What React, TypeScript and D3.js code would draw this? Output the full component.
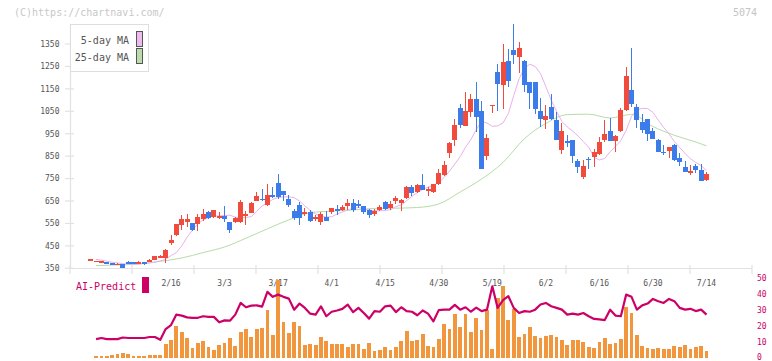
import React from "react";
import * as d3 from "d3";

// Trading days shown on the chart (2026)
const dates = [
  "1/23", "1/26", "1/27", "1/28", "1/29", "1/30",
  "2/2", "2/3", "2/4", "2/5", "2/6", "2/9", "2/10", "2/12", "2/13", "2/16", "2/17", "2/18", "2/19", "2/20", "2/24", "2/25", "2/26", "2/27",
  "3/2", "3/3", "3/4", "3/5", "3/6", "3/9", "3/10", "3/11", "3/12", "3/13", "3/16", "3/17", "3/18", "3/19", "3/23", "3/24", "3/25", "3/26", "3/27", "3/30", "3/31",
  "4/1", "4/2", "4/3", "4/6", "4/7", "4/8", "4/9", "4/10", "4/13", "4/14", "4/15", "4/16", "4/17", "4/20", "4/21", "4/22", "4/23", "4/24", "4/27", "4/28", "4/30",
  "5/1", "5/7", "5/8", "5/11", "5/12", "5/13", "5/14", "5/15", "5/18", "5/19", "5/20", "5/21", "5/22", "5/25", "5/26", "5/27", "5/28", "5/29",
  "6/1", "6/2", "6/3", "6/4", "6/5", "6/8", "6/9", "6/10", "6/11", "6/12", "6/15", "6/16", "6/17", "6/18", "6/19", "6/22", "6/23", "6/24", "6/25", "6/26", "6/29", "6/30",
  "7/1", "7/2", "7/3", "7/6", "7/7", "7/8", "7/9", "7/10", "7/13", "7/14",
];

const open = [
  389, 380, 374, 378, 373, 367, 370, 376, 378, 376, 378, 383, 386, 397, 397, 464, 498, 545, 558, 550,
  548, 571, 601, 577, 578, 584, 556, 556, 556, 587, 598, 652, 661, 632, 675, 731, 695, 659, 605, 632,
  594, 601, 572, 556, 579, 601, 614, 610, 628, 641, 637, 628, 610, 592, 611, 646, 620, 648, 641, 663,
  712, 690, 721, 698, 690, 726, 766, 864, 922, 1065, 985, 1047, 1105, 1051, 851, 1076, 1225, 1166, 1274, 1323,
  1292, 1273, 1181, 1181, 1051, 1012, 1069, 1011, 879, 918, 921, 828, 759, 838, 846, 860, 922, 962, 919, 963,
  1057, 1145, 1069, 1002, 1016, 962, 922, 869, 873, 900, 842, 802, 775, 806, 788, 744,
];
const high = [
  391, 384, 383, 379, 374, 373, 371, 384, 379, 381, 379, 390, 406, 408, 435, 497, 548, 588, 591, 552,
  590, 616, 605, 610, 600, 627, 556, 578, 653, 607, 645, 690, 702, 728, 711, 770, 695, 677, 614, 645,
  618, 610, 587, 600, 605, 618, 632, 632, 659, 659, 655, 628, 614, 614, 632, 650, 650, 672, 659, 717,
  721, 726, 770, 712, 726, 792, 828, 912, 1016, 1083, 1136, 1127, 1181, 1096, 949, 1079, 1260, 1350, 1327, 1439,
  1358, 1278, 1181, 1181, 1109, 1078, 1127, 1047, 998, 944, 921, 837, 833, 846, 882, 935, 1011, 1020, 944, 1065,
  1247, 1332, 1083, 1038, 1016, 975, 926, 900, 891, 904, 864, 828, 811, 815, 815, 780,
];
const low = [
  389, 378, 372, 368, 365, 364, 352, 369, 367, 374, 366, 380, 385, 395, 375, 455, 495, 521, 533, 517,
  515, 563, 569, 575, 568, 558, 508, 553, 551, 543, 595, 648, 648, 628, 665, 660, 652, 623, 565, 543,
  583, 556, 561, 543, 561, 592, 587, 605, 610, 601, 619, 592, 574, 583, 605, 610, 610, 637, 607, 659,
  672, 686, 699, 672, 686, 721, 761, 841, 895, 976, 983, 1025, 958, 793, 833, 1044, 1051, 1060, 1158, 1260,
  1221, 1135, 1060, 1038, 980, 971, 1011, 921, 859, 891, 821, 777, 750, 794, 803, 856, 913, 918, 870, 959,
  1053, 1070, 976, 953, 918, 926, 869, 855, 842, 829, 806, 779, 766, 775, 739, 739,
];
const close = [
  391, 383, 382, 369, 366, 370, 353, 372, 369, 378, 368, 386, 404, 403, 430, 476, 547, 570, 570, 521,
  577, 590, 573, 610, 583, 568, 522, 573, 645, 591, 642, 673, 657, 677, 669, 670, 677, 632, 574, 574,
  600, 561, 578, 590, 561, 618, 610, 623, 641, 610, 629, 601, 587, 605, 622, 614, 637, 662, 654, 712,
  686, 721, 699, 703, 726, 775, 810, 908, 989, 989, 1051, 1105, 1025, 793, 931, 1079, 1171, 1269, 1184, 1301,
  1332, 1166, 1133, 1060, 1016, 1029, 1016, 923, 962, 909, 851, 803, 806, 831, 869, 913, 949, 919, 940, 1056,
  1207, 1084, 1011, 966, 949, 926, 869, 865, 891, 833, 824, 779, 784, 788, 739, 771,
];

// 5-day moving average
const ma5 = [
  null,
  390, 386, 382, 377, 374, 371, 369, 368, 369, 372,
  374, 378, 383, 390, 407, 420, 450, 488, 520, 548,
  566, 576, 583, 584, 585, 587, 578, 576, 577, 580,
  605, 628, 642, 657, 666, 668, 669, 665, 650, 628,
  608, 592, 582, 578, 580, 592, 601, 610, 617, 621,
  615, 610, 607, 606, 608, 611, 625, 632, 651, 671,
  688, 701, 712, 720, 733, 755, 783, 815, 848, 890,
  924, 968, 1005, 998, 983, 985, 998, 1040, 1120, 1195,
  1242, 1260, 1250, 1218, 1160, 1100, 1050, 1005, 980, 962,
  940, 915, 890, 845, 833, 840, 870, 893, 920, 965,
  1028, 1056, 1063, 1062, 1045, 1010, 978, 950, 915, 888,
  862, 838, 822, 808, 785,
];

// 25-day moving average, read every few sessions
const ma25Index = [1, 5, 9, 13, 17, 21, 25, 29, 33, 37, 41, 45, 49, 53, 57, 61, 65, 69, 73, 77, 81, 85, 89, 93, 97, 101, 105, 109, 113, 115];
const ma25Value = [362, 365, 369, 381, 396, 420, 445, 484, 526, 566, 598, 605, 610, 617, 618, 621, 637, 690, 748, 822, 928, 996, 1035, 1037, 1020, 1036, 982, 943, 913, 896];

// Lower panel: AI-Predict score and bars
const predictBars = [
  null,
  1.6, 1.6, 1.6, 2.2, 3.0, 3.4, 2.6, 1.6, 1.6, 1.6,
  2.2, 2.2, 2.2, 9.1, 11.6, 20.4, 16.6, 12.9, 6.6, 9.7,
  11, 7.2, 5.3, 8.5, 9.7, 12.9, 7.8, 16.2, 18.5, 13.5,
  18.5, 19.1, 30.4, 14.7, 49, 22.9, 16, 22.9, 20.4, 8.5,
  9.1, 8.5, 13.5, 11, 9.1, 9.1, 9.1, 7.2, 9.1, 9.1,
  6, 9.7, 4.7, 5.3, 7.2, 5.3, 7.2, 11, 17.3, 11,
  11.6, 15.4, 7.8, 7.2, 12.3, 21.6, 18.5, 27.9, 19.8, 27.9,
  16.6, 25.4, 17.8, 30.4, 6, 38, 44.9, 24.1, 31, 13.5,
  15.4, 19.8, 14.1, 12.9, 14.1, 14.7, 13.5, 11.6, 8.5, 11.6,
  11.6, 10.4, 7.2, 6.6, 10.4, 12.9, 9.1, 9.7, 12.3, 32.3,
  28.5, 14.7, 7.8, 6.6, 6, 6.6, 6, 6, 7.8, 7.2,
  8.5, 6, 7.2, 7.8, 4.7,
];
const aiPredict = [
  null,
  12, 12.7, 12, 12, 12, 13, 12.7, 12.7, 12.7, 12.7,
  13.3, 13.3, 11.6, 18.3, 20.8, 27.3, 26.7, 25.6, 25.3, 25.3,
  26.3, 25.9, 25.9, 22.5, 23.7, 23.5, 27.3, 34.6, 31.9, 32.9,
  33.1, 32.3, 41.5, 38.4, 39.8, 38.4, 37.3, 30.4, 34.2, 31.5,
  27.9, 27.3, 32.5, 26.3, 29.1, 29.9, 30.9, 33.6, 28.9, 31.5,
  28.3, 24.8, 29.5, 29.1, 32.5, 32.9, 28.9, 31.9, 29.5, 29.1,
  26.9, 29.9, 27.9, 23.1, 30.1, 30.4, 30.4, 33.4, 30.4, 31.9,
  29.1, 31.7, 29.5, 30.4, 45, 31.5, 36.3, 38.8, 31.5, 28.3,
  29.5, 29.1, 30.4, 33.6, 34.6, 32.5, 31.5, 30.4, 27.3, 27.9,
  27.3, 28.3, 26.3, 24.6, 24.3, 23.9, 30.4, 26.7, 26.3, 39.8,
  38.4, 30.4, 33.1, 34.2, 37.1, 35.7, 34.6, 37.1, 35.7, 31.5,
  30.4, 30.9, 29.5, 30.4, 27.3,
];

const priceTicks = [350, 450, 550, 650, 750, 850, 950, 1050, 1150, 1250, 1350];
const dateLabels = ["2/16", "3/3", "3/17", "4/1", "4/15", "4/30", "5/19", "6/2", "6/16", "6/30", "7/14"];
const predictTicks = [0, 10, 20, 30, 40, 50];

const UP = "#f04b3c";
const DOWN = "#3c7bea";
const MA5_COLOR = "#e8b2e8";
const MA25_COLOR = "#b6dca6";
const AI_COLOR = "#cc0066";
const BAR_COLOR = "#f2963e";
const AXIS_COLOR = "#e2e2e2";
const MONO = "'DejaVu Sans Mono', 'Liberation Mono', monospace";

export default function App() {
  const W = 772;
  const H = 361;
  const n = dates.length;

  const x = d3.scaleLinear().domain([0, n - 1]).range([90.7, 706.5]);
  const y = d3.scaleLinear().domain([350, 1350]).range([268.3, 44]);
  const yb = d3.scaleLinear().domain([0, 50]).range([358.3, 278.3]);
  const grid = d3.scaleLinear().domain([0, 11]).range([70, 752]);

  const ma5Line = d3
    .line<number | null>()
    .defined((d) => d != null)
    .x((_, i) => x(i))
    .y((d) => y(d as number));

  const ma25Line = d3
    .line<number>()
    .x((_, k) => x(ma25Index[k]))
    .y((d) => y(d))
    .curve(d3.curveMonotoneX);

  const aiLine = d3
    .line<number | null>()
    .defined((d) => d != null)
    .x((_, i) => x(i))
    .y((d) => yb(d as number));

  return (
    <svg
      width={W}
      height={H}
      viewBox={`0 0 ${W} ${H}`}
      style={{ position: "absolute", left: 0, top: 0, display: "block", background: "#fff" }}
    >
      <rect x={0} y={0} width={W} height={H} fill="#fff" />

      {/* header texts */}
      <text x={14} y={15.5} fontFamily={MONO} fontSize={10} fill="#c8c8c8">
        (C)https://chartnavi.com/
      </text>
      <text x={733} y={15.5} fontFamily={MONO} fontSize={10} fill="#c4c4c4">
        5074
      </text>

      {/* price axis */}
      <line x1={70.5} y1={24} x2={70.5} y2={268.5} stroke={AXIS_COLOR} strokeWidth={1.2} />
      {priceTicks.map((p) => (
        <g key={p}>
          <line x1={65} x2={74} y1={y(p)} y2={y(p)} stroke={AXIS_COLOR} strokeWidth={1.2} />
          <text x={59.5} y={y(p)} dy="0.36em" textAnchor="end" fontFamily={MONO} fontSize={8} fill="#555">
            {p}
          </text>
        </g>
      ))}

      {/* time axis */}
      <line x1={70} y1={268.5} x2={752} y2={268.5} stroke={AXIS_COLOR} strokeWidth={1.2} />
      {d3.range(0, 12).map((k) => (
        <line key={k} x1={grid(k)} x2={grid(k)} y1={265} y2={274} stroke={AXIS_COLOR} strokeWidth={1.2} />
      ))}
      {dateLabels.map((lab) => (
        <text
          key={lab}
          x={x(dates.indexOf(lab))}
          y={285.5}
          textAnchor="middle"
          fontFamily={MONO}
          fontSize={8}
          fill="#555"
        >
          {lab}
        </text>
      ))}

      {/* moving averages */}
      <path d={ma25Line(ma25Value) || ""} fill="none" stroke={MA25_COLOR} strokeWidth={1} />
      <path d={ma5Line(ma5) || ""} fill="none" stroke={MA5_COLOR} strokeWidth={1} />

      {/* candles */}
      <g shapeRendering="crispEdges">
        {dates.map((dt, i) => {
          const o = open[i];
          const c = close[i];
          const col = c >= o ? UP : DOWN;
          const left = Math.round(x(i) - 2.5);
          const top = y(Math.max(o, c));
          const bh = Math.max(1.5, Math.abs(y(o) - y(c)));
          return (
            <g key={dt}>
              <rect x={left + 2} y={y(high[i])} width={1} height={Math.max(1, y(low[i]) - y(high[i]))} fill={col} />
              <rect x={left} y={top} width={5} height={bh} fill={col} />
            </g>
          );
        })}
      </g>

      {/* legend */}
      <rect x={70.5} y={24.5} width={78} height={47} fill="#fff" stroke="#dedede" strokeWidth={1} />
      <text x={129} y={44} textAnchor="end" fontFamily={MONO} fontSize={10} fill="#555">
        5-day MA
      </text>
      <text x={129} y={61} textAnchor="end" fontFamily={MONO} fontSize={10} fill="#555">
        25-day MA
      </text>
      <rect x={136.5} y={31.5} width={6} height={15} fill="#eebbee" stroke="#555" strokeWidth={1} />
      <rect x={136.5} y={48.5} width={6} height={15} fill="#bbddaa" stroke="#555" strokeWidth={1} />

      {/* AI-Predict panel */}
      <text x={76} y={289.5} fontFamily={MONO} fontSize={10} fill={AI_COLOR}>
        AI-Predict
      </text>
      <rect x={142} y={277} width={7} height={16} fill={AI_COLOR} />

      <g shapeRendering="crispEdges">
        {predictBars.map((v, i) =>
          v == null ? null : (
            <rect key={i} x={x(i) - 1.9} y={yb(v)} width={3.8} height={yb(0) - yb(v)} fill={BAR_COLOR} />
          )
        )}
      </g>
      <path d={aiLine(aiPredict) || ""} fill="none" stroke={AI_COLOR} strokeWidth={2.2} strokeLinejoin="round" />

      {predictTicks.map((t) => (
        <text
          key={t}
          x={757}
          y={Math.min(yb(t) + 2.9, 360)}
          fontFamily={MONO}
          fontSize={8}
          fill={AI_COLOR}
        >
          {t}
        </text>
      ))}
    </svg>
  );
}
